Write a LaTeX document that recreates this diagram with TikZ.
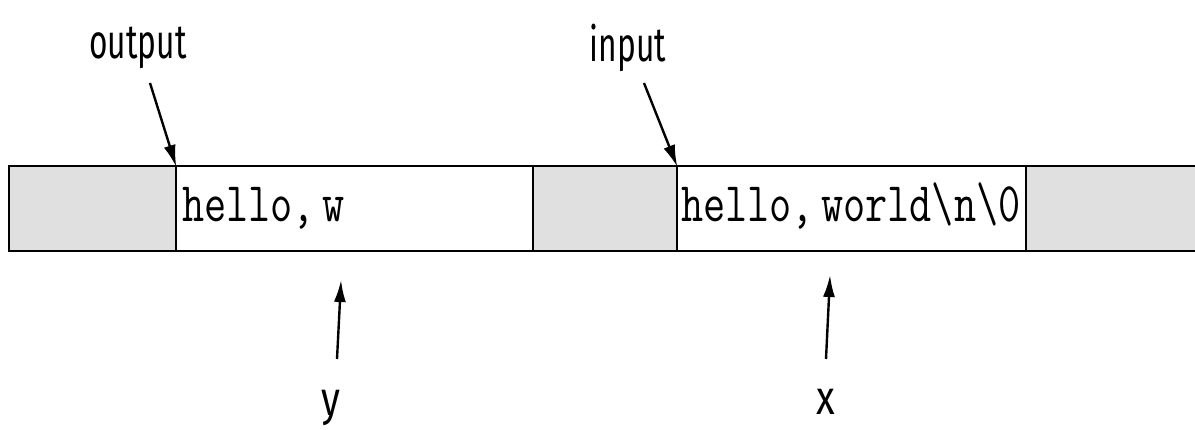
\documentclass[tikz,border=0pt]{standalone}
\usepackage{fontspec}
\newfontfamily\labelfont{Fira Sans}
\usetikzlibrary{arrows.meta}
\definecolor{cellgrey}{HTML}{E0E0E0}
\tikzset{
  cell/.style={draw=black, line width=1.8pt},
  ptr/.style={-{Latex[length=22pt,width=12pt]}, line width=2.4pt, shorten >=-1pt},
  celltext/.style={anchor=base west, inner sep=0pt, font=\fontsize{43}{48}\selectfont\ttfamily},
  lbl/.style={inner sep=0pt, font=\fontsize{48}{52}\selectfont\labelfont}
}
\begin{document}
\begin{tikzpicture}[x=1pt,y=-1pt]
\useasboundingbox (0,0) rectangle (1195,430);
% cells
\fill[cellgrey] (9,166) rectangle (176,251);
\fill[cellgrey] (533,166) rectangle (677,251);
\fill[cellgrey] (1026,166) rectangle (1195,251);
\draw[cell] (1195,166) -- (9,166) -- (9,251) -- (1195,251);
\draw[cell] (176,166) -- (176,251);
\draw[cell] (533,166) -- (533,251);
\draw[cell] (677,166) -- (677,251);
\draw[cell] (1026,166) -- (1026,251);
\coordinate (outpos) at (176,166);
\coordinate (inpos) at (677,166);
% texts
\node[celltext] (ytext) at (182,222) {\scalebox{1}[1.3]{hello,\,w}};
\node[celltext] (xtext) at (681,222) {\scalebox{1}[1.3]{hello,\,world\textbackslash n\textbackslash 0}};
% labels
\node[lbl] (out) at (138,48) {\scalebox{0.66}[1]{output}};
\node[lbl] (in) at (628,48) {\scalebox{0.66}[1]{input}};
\node[lbl] (y) at (331,408) {\scalebox{0.8}[1]{y}};
\node[lbl] (x) at (826,402) {\scalebox{0.8}[1]{x}};
\coordinate (yptr) at (341,281);
\coordinate (xptr) at (830,276);
% arrows
\draw[ptr] (150,83) -- (outpos);
\draw[ptr] (644,83) -- (inpos);
\draw[ptr] (337,359) -- (yptr);
\draw[ptr] (826,359) -- (xptr);
\end{tikzpicture}
\end{document}
